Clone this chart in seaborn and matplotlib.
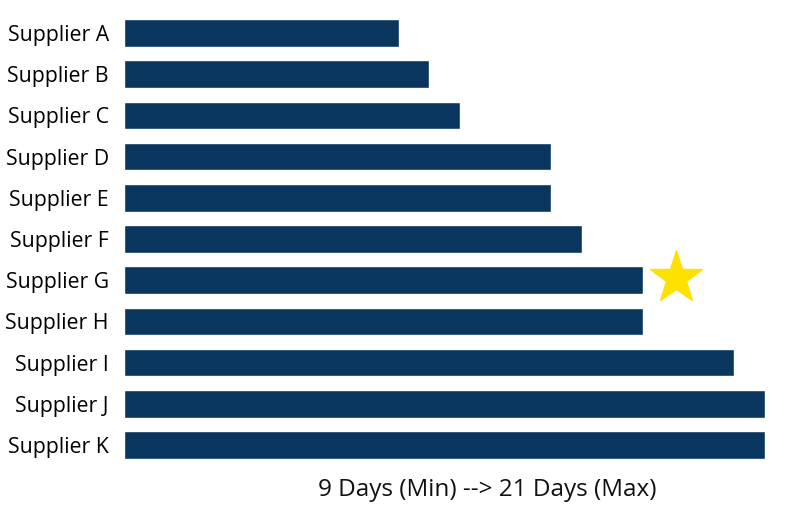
import matplotlib
matplotlib.use("Agg")
import matplotlib.pyplot as plt
import seaborn as sns
import pandas as pd

suppliers = ["Supplier A", "Supplier B", "Supplier C", "Supplier D", "Supplier E",
             "Supplier F", "Supplier G", "Supplier H", "Supplier I", "Supplier J", "Supplier K"]
days = [9, 10, 11, 14, 14, 15, 17, 17, 20, 21, 21]
star_supplier = "Supplier G"
star_offset = 1.1
xlabel = "9 Days (Min) --> 21 Days (Max)"

sns.set_theme(style="white")
plt.rcParams['font.family'] = ['Open Sans', 'DejaVu Sans']

df = pd.DataFrame({"supplier": suppliers, "days": days})

fig = plt.figure(figsize=(7.85, 5.08), dpi=100)
ax = fig.add_axes([0.158, 0.0835, 0.9745 - 0.158, 0.9756 - 0.0835])
sns.barplot(data=df, x="days", y="supplier", orient="h", color="#08365F",
            saturation=1, width=0.67, ax=ax)

# star marker beside highlighted supplier
idx = suppliers.index(star_supplier)
ax.plot([days[idx] + star_offset], [idx - 0.06], marker="*", markersize=40,
        color="#FFE100", markeredgecolor="#FFE100", clip_on=False, linestyle="none")

ax.set_xlim(0, 21)
ax.set_ylim(len(suppliers) - 0.5, -0.5)
for s in ax.spines.values():
    s.set_visible(False)
ax.set_xticks([])
ax.set_ylabel("")
ax.set_xlabel("")
ax.tick_params(axis="y", length=0, pad=11, labelsize=15.3, labelcolor="#000000")
fig.text(487 / 785, 1 - 490 / 508, xlabel, ha="center", va="center",
         fontsize=17.5, color="#111111")

fig.savefig("out.png", dpi=100)
